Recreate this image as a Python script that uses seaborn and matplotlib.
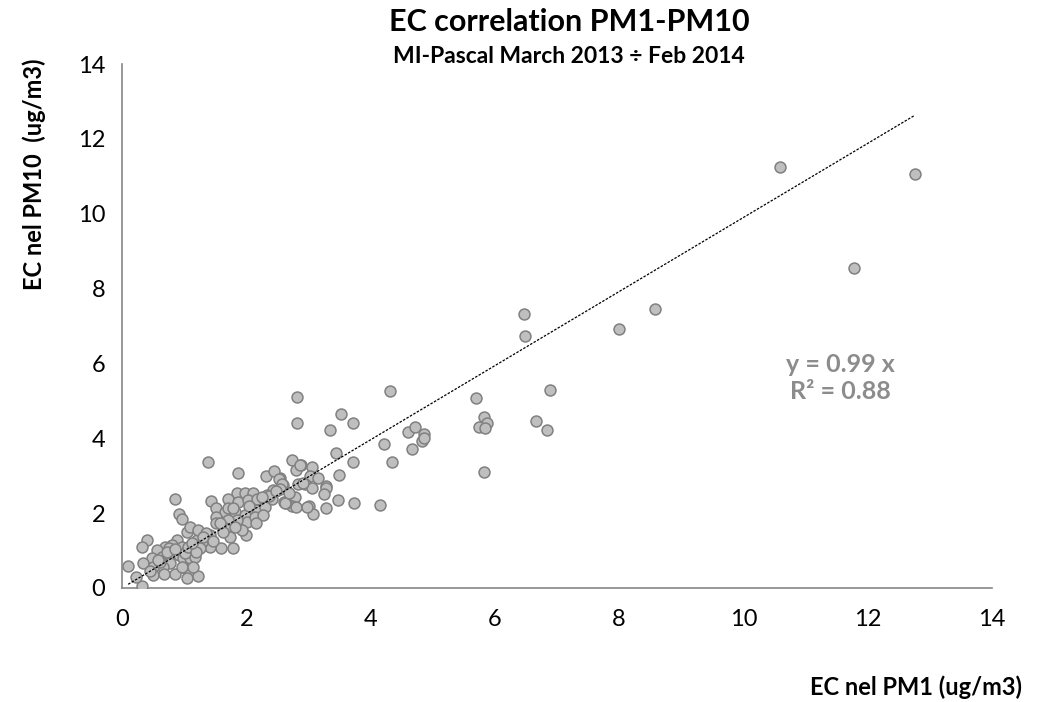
import numpy as np
import pandas as pd
import matplotlib
matplotlib.use("Agg")
import matplotlib.pyplot as plt
import seaborn as sns

# Daily elemental carbon, PM1 vs PM10 (ug/m3)
pm1 = [
    12.76, 10.59, 11.78, 8.57, 7.99, 6.47, 6.49, 5.70, 6.89, 5.82, 5.87, 5.75, 5.84, 6.67, 6.84, 5.83,
    2.82, 4.31, 3.53, 3.71, 2.81, 3.35, 4.60, 4.72, 4.86, 4.82, 4.86, 4.22, 3.44, 4.66, 3.71, 4.35,
    2.74, 2.88, 3.05, 2.80, 3.03, 3.16, 3.50, 2.54, 2.59, 2.56, 2.84, 2.94, 3.05, 3.28, 3.29, 3.25,
    2.78, 2.60, 2.73, 2.80, 3.01, 3.08, 3.28, 3.47, 3.74, 4.15, 2.64,
    1.38, 1.86, 0.85, 1.43, 0.92, 0.97, 2.31, 2.45, 2.52, 2.58, 2.86, 2.54, 2.43, 2.33, 2.41, 2.22,
    2.62, 2.92, 2.97, 1.85, 1.98, 2.11, 1.71, 1.87, 2.03, 2.17, 1.52, 1.66, 1.82, 1.98, 2.17, 2.30,
    2.01, 1.85, 1.71, 1.52, 1.51, 1.66, 2.14, 2.27, 2.15, 1.99, 1.74, 1.79, 1.60, 1.42, 1.42, 1.28,
    1.20, 1.04, 1.09, 1.23, 1.36, 0.88, 0.96, 0.80, 0.69, 0.56, 0.40, 0.33, 0.48, 0.64, 0.77, 0.91,
    0.99, 1.09, 1.17, 0.77, 0.66, 0.50, 0.34, 0.50, 0.68, 0.85, 1.01, 1.09, 1.04, 1.22, 0.32, 0.10,
    0.23, 1.01, 0.75, 0.61, 1.07, 1.26, 1.19, 0.96, 1.15, 1.63, 1.93, 1.82, 1.58, 1.71, 1.79, 2.05,
    2.36, 2.48, 1.12, 0.72, 0.58, 1.31, 1.47, 0.45, 0.86, 2.69, 2.25,
]
pm10 = [
    11.05, 11.25, 8.55, 7.46, 6.92, 7.32, 6.74, 5.07, 5.29, 4.56, 4.40, 4.31, 4.27, 4.45, 4.22, 3.11,
    5.11, 5.27, 4.65, 4.42, 4.40, 4.22, 4.18, 4.29, 4.11, 3.94, 4.00, 3.84, 3.60, 3.71, 3.36, 3.36,
    3.42, 3.29, 3.24, 3.15, 2.99, 2.93, 3.02, 2.94, 2.75, 2.67, 2.77, 2.77, 2.66, 2.73, 2.68, 2.50,
    2.44, 2.31, 2.19, 2.16, 2.19, 1.99, 2.14, 2.34, 2.28, 2.22, 2.28,
    3.37, 3.08, 2.37, 2.33, 1.97, 1.84, 2.99, 3.13, 2.90, 2.78, 3.29, 2.64, 2.62, 2.48, 2.38, 2.31,
    2.28, 2.80, 2.16, 2.53, 2.53, 2.55, 2.37, 2.31, 2.35, 2.37, 2.13, 2.04, 2.04, 1.95, 2.08, 2.17,
    1.77, 1.82, 1.82, 1.91, 1.73, 1.59, 1.91, 1.95, 1.73, 1.42, 1.37, 1.08, 1.06, 1.42, 1.10, 1.24,
    1.28, 1.50, 1.64, 1.55, 1.46, 1.28, 1.10, 1.15, 1.10, 1.02, 1.28, 1.10, 0.79, 0.84, 0.88, 0.88,
    0.79, 0.79, 0.84, 0.66, 0.57, 0.57, 0.66, 0.35, 0.37, 0.37, 0.53, 0.39, 0.26, 0.33, 0.04, 0.60,
    0.30, 0.93, 1.06, 0.70, 1.10, 1.06, 0.97, 0.57, 0.57, 1.50, 1.55, 1.64, 1.73, 2.13, 2.13, 2.20,
    2.45, 2.58, 1.20, 0.95, 0.75, 1.35, 1.25, 0.45, 1.05, 2.55, 2.42,
]

# Trend line through the origin, as reported in the annotation
slope = 0.99
r_squared = 0.88

df = pd.DataFrame({"pm1": pm1, "pm10": pm10})

sns.set_theme(style="white")
plt.rcParams["font.family"] = ["Lato", "DejaVu Sans"]

fig = plt.figure(figsize=(10.38, 7.02), dpi=100)
ax = fig.add_axes([0.1175, 0.1624, 0.8382, 0.7464])

sns.scatterplot(data=df, x="pm1", y="pm10", ax=ax, s=62, color="#BFBFBF",
                edgecolor="#808080", linewidth=1.1, zorder=3, legend=False)

xs = np.array([df["pm1"].min(), df["pm1"].max()])
ax.plot(xs, slope * xs, color="black", linewidth=0.9, linestyle=(0, (2, 1.2)), zorder=4)

ax.set_xlim(0, 14)
ax.set_ylim(0, 14)
ax.set_xticks(range(0, 15, 2))
ax.set_yticks(range(0, 15, 2))
ax.tick_params(axis="both", which="major", direction="out", length=4, width=1,
               color="#868686", labelsize=17, labelcolor="black", pad=8)
ax.tick_params(axis="x", pad=11)
for side in ["top", "right"]:
    ax.spines[side].set_visible(False)
for side in ["left", "bottom"]:
    ax.spines[side].set_color("#868686")
    ax.spines[side].set_linewidth(1.2)

ax.set_xlabel("")
ax.set_ylabel("")

fig.text(0.548, 0.969, "EC correlation PM1-PM10", ha="center", va="center",
         fontsize=22, fontweight="bold", color="black")
fig.text(0.548, 0.920, "MI-Pascal March 2013 \u00f7 Feb 2014", ha="center", va="center",
         fontsize=16.5, fontweight="bold", color="black")
fig.text(0.985, 0.021, "EC nel PM1 (ug/m3)", ha="right", va="center",
         fontsize=17, fontweight="bold", color="black")
fig.text(0.033, 0.752, "EC nel PM10  (ug/m3)", ha="center", va="center", rotation=90,
         fontsize=17, fontweight="bold", color="black")

ax.text(0.81, 0.4615, f"y = {slope:.2f} x\nR\u00b2 = {r_squared:.2f}", transform=fig.transFigure,
        ha="center", va="center", fontsize=18, fontweight="bold", color="#8C8C8C",
        linespacing=1.2)

fig.savefig("out.png", dpi=100)
